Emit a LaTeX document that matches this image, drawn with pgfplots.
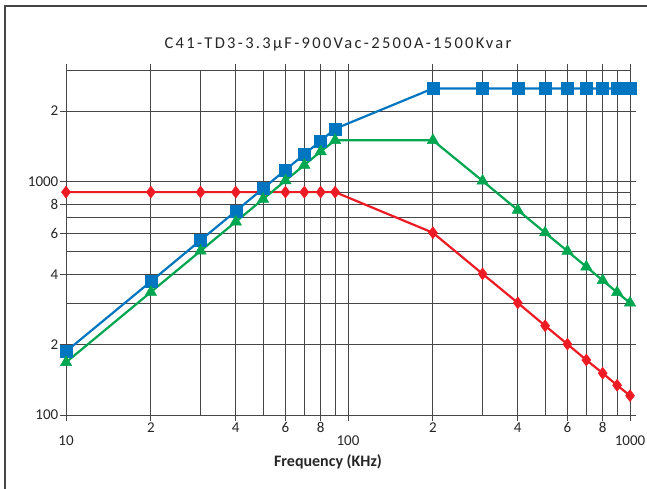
\documentclass[border=0pt]{standalone}
\usepackage{fontspec}
\setmainfont{Carlito}
\usepackage{pgfplots}
\pgfplotsset{compat=1.18}
\definecolor{cblue}{RGB}{0,118,192}
\definecolor{cgreen}{RGB}{0,166,80}
\definecolor{cred}{RGB}{237,28,36}
\definecolor{cgrid}{RGB}{70,70,70}
\begin{document}
\begin{tikzpicture}[x=1pt,y=1pt]
\useasboundingbox (0,0) rectangle (647,489);
\draw[cgrid, line width=1.3pt] (5,-5) -- (5,483) -- (660,483);
\node[font=\fontsize{16.5}{18}\selectfont\addfontfeature{LetterSpace=14}, text=black!85] at (338,445) {C41-TD3-3.3µF-900Vac-2500A-1500Kvar};
\node[font=\fontsize{16}{18}\selectfont\bfseries, text=black!85] at (328,27) {Frequency (KHz)};
\begin{axis}[
  at={(66pt,74pt)}, anchor=south west,
  scale only axis, width=564pt, height=345pt,
  xmode=log, ymode=log,
  xmin=10, xmax=1000, ymin=100, ymax=3000,
  axis line style={cgrid, line width=0.9pt},
  xtick={20,40,60,80,200,400,600,800},
  xticklabels={2,4,6,8,2,4,6,8},
  extra x ticks={10,100,1000},
  extra x tick labels={10,100,1000},
  extra x tick style={tick label style={yshift=-13pt}},
  minor xtick={30,50,70,90,300,500,700,900},
  ytick={200,400,600,800,2000},
  yticklabels={2,4,6,8,2},
  extra y ticks={100,1000},
  extra y tick labels={100,1000},
  minor ytick={300,500,700,900},
  grid=both,
  major grid style={cgrid, line width=0.9pt},
  minor grid style={cgrid, line width=0.9pt},
  tick align=outside,
  major tick length=6pt,
  minor tick length=0pt,
  tick style={cgrid, line width=0.9pt},
  tick label style={font=\fontsize{15}{17}\selectfont, text=black!85, inner sep=1.5pt},
  clip=false,
]
\addplot[cred, line width=2.2pt, mark=diamond*, mark size=6pt, mark options={solid, fill=cred, draw=cred, line width=0.5pt}] coordinates {
(10,900) (20,900) (30,900) (40,900) (50,900) (60,900) (70,900) (80,900) (90,900)
(200,603) (300,402) (400,302) (500,241) (600,201) (700,172) (800,151) (900,134) (1000,121)
};
\addplot[cblue, line width=2.2pt, mark=square*, mark size=6pt, mark options={solid, fill=cblue, draw=cblue, line width=0.5pt}] coordinates {
(10,187) (20,373) (30,560) (40,746) (50,933) (60,1120) (70,1306) (80,1493) (90,1680)
(200,2500) (300,2500) (400,2500) (500,2500) (600,2500) (700,2500) (800,2500) (900,2500) (1000,2500)
};
\addplot[cgreen, line width=2.2pt, mark=triangle*, mark size=6.5pt, mark options={solid, fill=cgreen, draw=cgreen, line width=0.5pt}] coordinates {
(10,168) (20,336) (30,504) (40,672) (50,840) (60,1008) (70,1175) (80,1343) (90,1500)
(200,1500) (300,1005) (400,754) (500,603) (600,503) (700,431) (800,377) (900,335) (1000,302)
};
\end{axis}
\end{tikzpicture}
\end{document}
